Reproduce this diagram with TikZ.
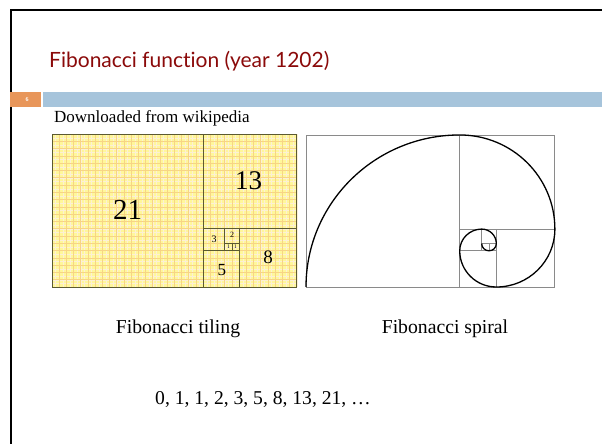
\documentclass[tikz,border=0pt]{standalone}
\usepackage{fontspec}
\setmainfont{Liberation Serif}
\newfontfamily\titlefont[Ligatures={NoCommon}]{Lato}
\definecolor{titlered}{HTML}{8B0A0A}
\definecolor{barblue}{HTML}{A6C4DB}
\definecolor{barorange}{HTML}{E8965A}
\definecolor{tileyellow}{HTML}{FFF79A}
\definecolor{gridorange}{HTML}{F5CC70}
\definecolor{tileline}{HTML}{5C5A30}
\definecolor{spiralgray}{HTML}{8A8A8A}
\tikzset{
  tilebox/.style={draw=tileline, line width=0.8pt},
  spirbox/.style={draw=spiralgray, line width=0.9pt},
  spirline/.style={draw=black, line width=1.3pt},
  caption/.style={font=\fontsize{19.7}{22}\selectfont, inner sep=0pt, anchor=base},
  tnum/.style={inner sep=0pt}
}
\begin{document}
\begin{tikzpicture}[x=1pt,y=-1pt]
\useasboundingbox (0,0) rectangle (602,444);
\fill[white] (0,0) rectangle (602,444);
\draw[line width=2pt] (11,444) -- (11,10) -- (602,10);
\node[anchor=base west, inner sep=0pt, text=titlered, font=\titlefont\fontsize{21}{25}\selectfont] (title) at (49,67) {Fibonacci function (year 1202)};
\fill[barorange] (10,92) rectangle (41,107);
\fill[barblue] (43,92) rectangle (602,107);
\node[text=white, font=\bfseries\fontsize{6}{7}\selectfont, inner sep=0pt] (six) at (27,99.5) {6};
\node[anchor=base west, inner sep=0pt, font=\fontsize{17}{20}\selectfont] (src) at (54,122) {Downloaded from wikipedia};

% Fibonacci tiling
\begin{scope}[shift={(52,287)}, x=7.2pt, y=7.28pt]
  \fill[tileyellow] (0,0) rectangle (34,21);
  \draw[gridorange!30, line width=0.3pt, step=0.5] (0,0) grid (34,21);
  \draw[gridorange!85, line width=0.7pt, step=1] (0,0) grid (34,21);
  \draw[tilebox] (0,0) rectangle (34,21);
  \draw[tilebox] (21,0) -- (21,21);
  \draw[tilebox] (21,8) -- (34,8);
  \draw[tilebox] (26,0) -- (26,8);
  \draw[tilebox] (21,5) -- (26,5);
  \draw[tilebox] (24,5) -- (24,8);
  \draw[tilebox] (24,6) -- (26,6);
  \draw[tilebox] (25,5) -- (25,6);
  \node[tnum, font=\fontsize{29}{30}\selectfont] (n21) at (10.5,10.6) {21};
  \node[tnum, font=\fontsize{27}{28}\selectfont] (n13) at (27.3,14.6) {13};
  \node[tnum, font=\fontsize{19}{20}\selectfont] (n8) at (30,4.1) {8};
  \node[tnum, font=\fontsize{17}{18}\selectfont] (n5) at (23.6,2.4) {5};
  \node[tnum, font=\fontsize{10}{11}\selectfont] (n3) at (22.5,6.5) {3};
  \node[tnum, font=\fontsize{8}{9}\selectfont] (n2) at (25,7.1) {2};
  \node[tnum, font=\fontsize{5.5}{6}\selectfont] (n1a) at (24.5,5.5) {1};
  \node[tnum, font=\fontsize{5.5}{6}\selectfont] (n1b) at (25.5,5.5) {1};
\end{scope}

% Fibonacci spiral
\begin{scope}[shift={(306,287)}, x=7.32pt, y=7.24pt]
  \draw[spirbox] (0,0) rectangle (34,21);
  \draw[spirbox] (21,0) -- (21,21);
  \draw[spirbox] (21,8) -- (34,8);
  \draw[spirbox] (26,0) -- (26,8);
  \draw[spirbox] (21,5) -- (26,5);
  \draw[spirbox] (24,5) -- (24,8);
  \draw[spirbox] (24,6) -- (26,6);
  \draw[spirbox] (25,5) -- (25,6);
  \draw[spirline] (0,0) arc[start angle=180, end angle=90, radius=21]
                        arc[start angle=90, end angle=0, radius=13]
                        arc[start angle=0, end angle=-90, radius=8]
                        arc[start angle=-90, end angle=-180, radius=5]
                        arc[start angle=180, end angle=90, radius=3]
                        arc[start angle=90, end angle=0, radius=2]
                        arc[start angle=0, end angle=-180, radius=1];
\end{scope}

\node[caption] (cap1) at (178,333) {Fibonacci tiling};
\node[caption] (cap2) at (445,333) {Fibonacci spiral};
\node[anchor=base west, inner sep=0pt, font=\fontsize{19.6}{22}\selectfont] (seq) at (155,404) {0, 1, 1, 2, 3, 5, 8, 13, 21, \ldots};
\end{tikzpicture}
\end{document}
